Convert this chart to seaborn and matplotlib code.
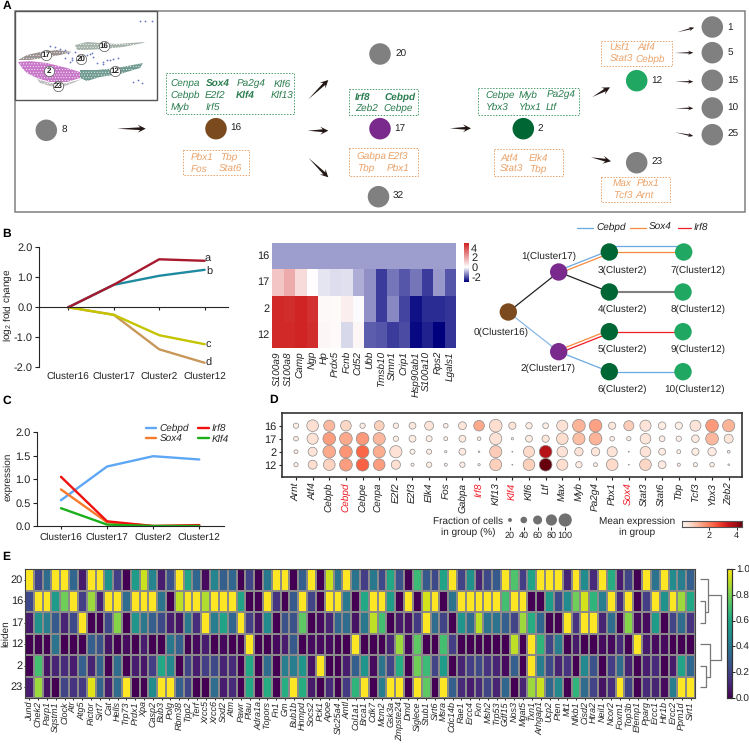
import numpy as np
import pandas as pd
import seaborn as sns
from matplotlib import pyplot as plt
from matplotlib.colors import LinearSegmentedColormap
from matplotlib.patches import Polygon, Rectangle

W, H = 749, 746

sns.set_theme(style='ticks')
plt.rcParams['font.family'] = ['Liberation Sans', 'DejaVu Sans']
plt.rcParams['axes.unicode_minus'] = False
plt.rcParams['mathtext.default'] = 'regular'
plt.rcParams['hatch.linewidth'] = 0.35
plt.rcParams['axes.linewidth'] = 0.8
plt.rcParams['text.hinting'] = 'none'
plt.rcParams['text.hinting_factor'] = 1

INK = '#222222'
GREEN_TXT = '#2a7d4f'
GREEN_BOX = '#4aa06c'
ORANGE_TXT = '#eaa36b'
GREY_NODE = '#808080'
BROWN = '#7b4a1e'
PURPLE = '#7a2a8c'
DARK_GREEN = '#006633'
LIGHT_GREEN = '#20a862'

# panel B, fold change lines
clusters = ['Cluster16', 'Cluster17', 'Cluster2', 'Cluster12']
fold_a = [0, 0.75, 1.6, 1.55]
fold_b = [0, 0.75, 1.05, 1.25]
fold_c = [0, -0.25, -0.93, -1.23]
fold_d = [0, -0.25, -1.4, -1.85]

# panel B, heatmap
hm_genes = ['S100a9', 'S100a8', 'Camp', 'Ngp', 'Hp', 'Prdx5', 'Fcnb', 'Cd52', 'Ubb', 'Tmsb10',
            'Stmn1', 'Crip1', 'Hsp90ab1', 'S100a10', 'Rps2', 'Lgals1']
hm_rows = ['16', '17', '2', '12']
hm_16 = [-1.15, -1.15, -1.15, -1.15, -1.15, -1.15, -1.15, -1.15, -1.15, -1.15, -1.15, -1.15, -1.15, -1.15, -1.15, -1.15]
hm_17 = [1.3, 1.9, 0.8, 0.05, -0.3, -0.4, -0.35, -0.95, -1.3, -2.3, -1.6, -2.0, -1.6, -2.3, -1.2, -2.0]
hm_2 = [4.8, 4.7, 4.9, 4.6, 0.15, 0.1, 0.4, -0.05, -1.3, -2.3, -1.4, -2.2, -2.8, -2.5, -2.5, -2.4]
hm_12 = [4.8, 4.8, 4.9, 4.7, 0.2, 0.1, -0.45, 0.2, -1.9, -2.0, -2.3, -2.1, -2.9, -2.6, -3.0, -2.4]

# panel C
expr_cebpd = [0.55, 1.27, 1.49, 1.42]
expr_sox4 = [0.78, 0.08, 0.0, 0.0]
expr_irf8 = [1.05, 0.1, 0.0, 0.02]
expr_klf4 = [0.38, 0.03, 0.0, 0.0]

# panel D, dot plot
dot_genes = ['Arnt', 'Atf4', 'Cebpb', 'Cebpd', 'Cebpe', 'Cenpa', 'E2f2', 'E2f3', 'Elk4', 'Fos', 'Gabpa', 'Irf8',
             'Klf13', 'Klf4', 'Klf6', 'Ltf', 'Max', 'Myb', 'Pa2g4', 'Pbx1', 'Sox4', 'Stat3', 'Stat6', 'Tbp',
             'Tcf3', 'Ybx3', 'Zeb2']
dot_red = ['Cebpd', 'Irf8', 'Klf4', 'Sox4']
frac_16 = [30, 85, 80, 75, 30, 68, 30, 42, 60, 25, 50, 75, 95, 45, 38, 33, 80, 95, 95, 45, 70, 80, 48, 45, 78, 95, 90]
frac_17 = [25, 80, 95, 95, 95, 90, 30, 42, 35, 20, 42, 18, 90, 10, 42, 45, 85, 90, 95, 25, 22, 75, 33, 30, 48, 95, 60]
frac_2 = [20, 60, 95, 95, 95, 90, 90, 28, 28, 10, 42, 6, 90, 3, 80, 95, 75, 55, 55, 70, 3, 75, 42, 20, 45, 55, 13]
frac_12 = [22, 60, 85, 95, 95, 85, 62, 15, 30, 14, 30, 10, 88, 3, 85, 95, 80, 38, 20, 85, 3, 85, 50, 15, 22, 24, 6]
mean_16 = [.2, .55, 1.15, .7, .25, .8, .2, .35, .45, .2, .4, 1.35, .6, .45, .25, .2, .5, 1.2, 1.45, .4, .85, .45, .25, .2, .45, 1.55, 1.2]
mean_17 = [.2, .5, 1.5, 1.35, 1.55, 1.15, .2, .25, .2, .15, .3, .15, .5, .1, .25, .4, .6, 1.05, 1.2, .15, .15, .4, .2, .15, .3, 1.15, .4]
mean_2 = [.2, .45, 1.35, 1.6, 2.25, 1.3, .5, .15, .2, .1, .3, .05, .85, .02, .65, 3.6, .5, .45, .4, .45, .02, .45, .25, .1, .25, .3, .15]
mean_12 = [.2, .6, .75, 1.5, 2.3, 1.5, .55, .1, .2, .1, .2, .05, .8, .02, .8, 4.4, .6, .25, .15, .65, .02, .7, .3, .1, .15, .15, .1]
fraction_legend = [20, 40, 60, 80, 100]

# panel E
leiden_rows = ['20', '16', '17', '12', '2', '23']
age_genes = ['Jund', 'Chek2', 'Parp1', 'Sqstm1', 'Clock', 'Atr', 'Atg5', 'Rictor', 'Sirt7', 'Cat', 'Hells', 'Trp73',
             'Prdx1', 'Xpa', 'Casp2', 'Bub3', 'Polg', 'Rbm38', 'Tpp2', 'Terf', 'Xrcc5', 'Xrcc6', 'Sod2', 'Atm', 'Pawr',
             'Plau', 'Adra1a', 'Topors', 'Fn1', 'Gm', 'Bub1b', 'Hnmpd', 'Socs2', 'Pck1', 'Apoe', 'Slc25a4', 'Amtl',
             'Col1a1', 'Brca1', 'Cdk7', 'Mcm2', 'Gsk3a', 'Zmpste24', 'Dmd', 'Siglece', 'Stub1', 'Sirt6', 'Msra',
             'Cdc14b', 'Rae1', 'Ercc4', 'Fxn', 'Msh2', 'Trp53', 'Gdf15', 'Nos3', 'Mgat5', 'Txn1', 'Arhgap1', 'Ucp2',
             'Pten', 'Mt1', 'Nfkb1', 'Cisd2', 'Htra2', 'Neil1', 'Ncor2', 'Foxm1', 'Top3b', 'Efemp1', 'Pparg', 'Ercc1',
             'Htr1b', 'Ercc2', 'Ppm1d', 'Sirt1']
leiden_20 = [1, .2, .35, 1, 1, .33, .07, 1, 1, .5, .18, 0, .55, .92, .45, .08, .25, 1, .58, .33, .03, .45, .3, .33, 0, .2,
             0, .4, 1, 1, 0, .3, 1, 0, .92, .38, 1, .38, .18, .4, .22, .6, .25, 0, .68, .28, .22, .58, 1, .2, .5, .1, .22, .28,
             1, .72, .18, .58, 1, 1, 1, .1, 1, .48, .12, 1, .62, .08, .2, 0, 1, .38, 1, .48, .42, .3]
leiden_16 = [.22, 1, 1, .55, .78, 1, .18, .85, .1, 1, 1, .35, 1, 1, 1, .38, 0, .9, 1, 1, .88, 1, 1, 1, .58, 0,
             0, 1, .15, 0, .28, 1, .2, 0, 1, 1, .4, 0, .6, 1, 1, .55, 0, 1, 0, .93, 1, 0, .38, 1, 1, 1, 1, 1,
             .7, 1, 1, 0, 0, .55, .22, .48, .78, .93, .65, .42, 1, .12, 1, 0, .18, 1, .5, 1, .85, .6]
leiden_17 = [.07, .5, .42, .28, .1, .22, 1, 0, 0, .22, .82, 0, .52, .4, .3, .22, .08, .05, .4, .13, 1, .42, .58, .33, 1, .18,
             .05, .48, 0, .25, .25, .75, 0, .03, .1, .33, .35, .05, .4, .9, .7, 0, .07, .04, .17, 1, .35, .2, 0, .52, .35, .9, .38, .38,
             .3, .2, .85, .62, .33, 0, 0, 1, .15, 1, 1, .1, .35, 0, .82, .03, .03, .55, 0, .2, .35, .15]
leiden_12 = [0, 0, 0, .38, 0, 0, 0, .3, .25, .05, 0, .03, 0, .08, 0, 0, .4, .3, 0, .03, .08, 0, .02, 0, 0, 1,
             0, 0, .03, .08, .28, 0, .03, .03, .03, 0, 0, 1, 0, 0, 0, .1, .85, .02, .75, 0, 0, .7, .18, 0, 0, 0, 0, 0,
             0, .9, 0, 1, .65, .2, .42, 0, .07, 0, 0, .03, .03, .12, 0, 1, .07, .03, .03, 0, 0, 0]
leiden_2 = [0, .7, .05, .1, .12, .08, .3, .1, .32, 0, .35, 0, .08, .06, .18, .6, .47, 0, .2, .08, .18, .22, .1, .12, 0, .6,
            0, .35, 0, .42, .42, .52, .05, 1, 0, 0, .08, .3, .52, .03, .38, .2, .62, 0, .78, .68, .2, .55, 0, .1, .18, .22, .15, .1,
            .03, .3, 0, 1, .42, .22, .1, .15, 0, .47, .25, 0, .18, .35, .1, 0, .08, .12, 0, .07, .58, .33]
leiden_23 = [.08, .85, .05, 0, .2, .15, .17, .95, .32, .08, .35, 1, 0, 0, .48, 1, 1, .3, .2, 0, 0, .35, .08, .12, 0, .6,
             0, .62, 0, .62, 1, .62, .07, 0, .12, 0, .17, .65, 1, 0, .42, 1, 1, 0, 1, .75, 0, 1, .3, .12, .08, .12, .2, .1,
             .33, 0, .1, .85, .92, .33, .47, 0, .65, .35, .2, .05, .13, 1, .2, 0, .12, .1, .03, .42, 1, 1]

# panel A, pseudotime nodes: name, x, y, colour (pixel space)
a_names = ['8', '16', '20', '17', '32', '2', '12', '23', '1', '5', '15', '10', '25']
a_x = [46.3, 216, 380, 380, 378.5, 523.3, 636.7, 636.7, 712.3, 712.3, 712.3, 712.3, 712.3]
a_y = [130.3, 128.7, 54, 128.7, 196.7, 128.7, 80.7, 162.7, 27, 52.7, 80.3, 108, 134.7]
a_colors = [GREY_NODE, BROWN, GREY_NODE, PURPLE, GREY_NODE, DARK_GREEN, LIGHT_GREEN, GREY_NODE,
            GREY_NODE, GREY_NODE, GREY_NODE, GREY_NODE, GREY_NODE]
a_label_x = [62, 230, 395, 394, 393, 538, 651.7, 651, 727.7, 727.7, 727.7, 727.7, 727.7]

# panel A arrows: x0, y0, x1, y1
big_arrows = [(117.3, 128.7, 145.7, 128.7), (308.3, 99.3, 328.3, 80), (307.7, 130.7, 328.3, 130.7),
              (308.3, 157.7, 328.3, 177.3), (450, 128.3, 471, 128.3), (592.3, 97, 610, 87.3),
              (591, 157.3, 611, 161.3)]
small_arrows = [(677, 32.3, 694.3, 27.7), (675, 53, 693.3, 52.7), (675, 81.7, 693.3, 81.7),
                (675, 108.3, 693.3, 108.3), (675, 132.3, 693.3, 136)]

# panel A gene boxes: x0, y0, x1, y1, kind
gene_boxes = [(165.7, 73, 294.3, 114.3, 'g'), (183.3, 150.3, 249.3, 175.3, 'o'),
              (349.3, 89, 417.7, 114.7, 'g'), (349.3, 148.3, 417.7, 175.7, 'o'),
              (478.3, 88.3, 579, 114.7, 'g'), (494.3, 149, 563, 176.3, 'o'),
              (600.7, 40.7, 672.3, 66, 'o'), (600.7, 176.7, 669.7, 201.7, 'o')]
# text, x, y, kind, bold
gene_text = [('Cenpa', 170.7, 84, 'g', 0), ('Sox4', 205.7, 84, 'g', 1), ('Pa2g4', 236.7, 84, 'g', 0), ('Klf6', 273.7, 84, 'g', 0),
             ('Cebpb', 170.7, 95.7, 'g', 0), ('E2f2', 205, 95.7, 'g', 0), ('Klf4', 236.3, 95.7, 'g', 1), ('Klf13', 271, 95.7, 'g', 0),
             ('Myb', 170.7, 107.3, 'g', 0), ('Irf5', 205.7, 107.3, 'g', 0),
             ('Pbx1', 191, 157.3, 'o', 0), ('Tbp', 220, 157.3, 'o', 0), ('Fos', 191, 169, 'o', 0), ('Stat6', 219, 169, 'o', 0),
             ('Irf8', 355, 97, 'g', 1), ('Cebpd', 384.7, 97, 'g', 1), ('Zeb2', 355, 108.7, 'g', 0), ('Cebpe', 383.3, 108.7, 'g', 0),
             ('Gabpa', 356.7, 156, 'o', 0), ('E2f3', 387.7, 156, 'o', 0), ('Tbp', 356.7, 168, 'o', 0), ('Pbx1', 387, 168, 'o', 0),
             ('Cebpe', 485, 95.7, 'g', 0), ('Myb', 519, 95.7, 'g', 0), ('Pa2g4', 546.3, 95.7, 'g', 0),
             ('Ybx3', 485.7, 107.7, 'g', 0), ('Ybx1', 519, 107.7, 'g', 0), ('Ltf', 546, 107.7, 'g', 0),
             ('Atf4', 500, 158, 'o', 0), ('Elk4', 528.3, 158, 'o', 0), ('Stat3', 500, 169.7, 'o', 0), ('Tbp', 529, 169.7, 'o', 0),
             ('Usf1', 609.3, 47, 'o', 0), ('Atf4', 637.7, 47, 'o', 0), ('Stat3', 609.7, 59, 'o', 0), ('Cebpb', 635.7, 59, 'o', 0),
             ('Max', 612.3, 183, 'o', 0), ('Pbx1', 636.7, 183, 'o', 0), ('Tcf3', 613, 195, 'o', 0), ('Arnt', 635.7, 195, 'o', 0)]

# UMAP inset outlines (pixel space)
umap_2 = [(18, 62), (30, 61), (47, 63), (67, 68), (80, 72), (80, 78), (67, 82), (50, 82), (37, 78), (27, 73), (22, 68)]
umap_17 = [(18, 60), (27, 55), (40, 52), (57, 50), (72, 52), (60, 55), (43, 58), (30, 60)]
umap_23 = [(37, 79), (50, 83), (67, 83), (82, 79), (73, 83), (60, 88), (50, 86), (40, 83)]
umap_12 = [(80, 70), (97, 70), (117, 68), (143, 63), (140, 68), (120, 74), (100, 77), (87, 81), (80, 78)]
umap_16 = [(75, 45), (87, 42), (100, 43), (117, 44), (145, 42), (143, 43), (123, 47), (103, 49), (87, 50), (77, 50)]
umap_20_x = [50, 55, 60, 65, 68, 72, 65, 72, 78, 82, 87, 90, 92, 93, 97, 103, 107, 113, 118, 103, 110, 70, 75, 84, 140, 145, 152, 133, 138, 142]
umap_20_y = [46, 47, 49, 50, 53, 58, 58, 60, 58, 58, 55, 54, 53, 57, 63, 62, 60, 59, 58, 64, 60, 62, 52, 56, 21, 21, 21, 82, 80, 83]
umap_tags = ['16', '17', '20', '2', '12', '23']
umap_tag_x = [103.7, 45.7, 81.3, 49.3, 114.7, 58.3]
umap_tag_y = [45.7, 55.3, 58.7, 71, 71.3, 85.7]

# panel B tree: x, y, colour, label, label x, label y
tree_x = [508.3, 558.7, 558.7, 609.3, 609.3, 609.3, 609.3, 683.7, 683, 683, 683]
tree_y = [312, 272, 351.7, 252, 292, 331.7, 371.7, 252, 292, 331.7, 371.7]
tree_colors = [BROWN, PURPLE, PURPLE, DARK_GREEN, DARK_GREEN, DARK_GREEN, DARK_GREEN,
               LIGHT_GREEN, LIGHT_GREEN, LIGHT_GREEN, LIGHT_GREEN]
tree_labels = ['0(Cluster16)', '1(Cluster17)', '2(Cluster17)', '3(Cluster2)', '4(Cluster2)', '5(Cluster2)',
               '6(Cluster2)', '7(Cluster12)', '8(Cluster12)', '9(Cluster12)', '10(Cluster12)']
tree_label_x = [500.7, 548.7, 548.3, 622, 622, 622, 622, 698, 698, 698, 695]
tree_label_y = [332.3, 256.7, 368.3, 270, 309.7, 349.3, 389, 270, 309.7, 349.3, 389]
C_CEBPD = '#6aa9e0'
C_SOX4 = '#f58a3c'
C_IRF8 = '#ee1c25'
# from, to, (colour, perpendicular offset, width)
tree_edges = [(0, 1, [('#222222', 0, 0.9)]), (0, 2, [('#8ab8e6', 0, 0.9)]),
              (1, 3, [(C_CEBPD, -1.4, 0.9), (C_SOX4, 1.4, 0.9)]), (1, 4, [('#222222', 0, 0.9)]),
              (3, 7, [(C_CEBPD, -5.6, 0.9), (C_SOX4, 0, 0.9)]), (4, 8, [('#808080', 0, 1.5)]),
              (2, 5, [(C_SOX4, -1.4, 0.9), (C_IRF8, 1.4, 0.9)]), (2, 6, [(C_CEBPD, 0, 0.9)]),
              (5, 9, [(C_IRF8, 0, 0.9)]), (6, 10, [(C_CEBPD, 0, 0.9)])]

fig = plt.figure(figsize=(W / 100, H / 100), dpi=100, facecolor='white')


def px_axes(x0, y0, x1, y1):
    return fig.add_axes([x0 / W, 1 - y1 / H, (x1 - x0) / W, (y1 - y0) / H])


def arrow(ax, x0, y0, x1, y1, hl=8, hw=4, neck=1.4):
    d = np.array([x1 - x0, y1 - y0], dtype=float)
    d = d / np.hypot(*d)
    n = np.array([-d[1], d[0]])
    tip = np.array([x1, y1])
    ne = tip - d * hl * 0.7
    ba = tip - d * hl
    ax.fill(*zip((x0, y0), ne + n * neck, ba + n * hw, tip, ba - n * hw, ne - n * neck), color='#231815', lw=0, zorder=4)


# overlay in pixel coordinates for the diagram parts
ov = fig.add_axes([0, 0, 1, 1], zorder=5)
ov.patch.set_alpha(0)

for letter, lx, ly in [('A', 2.5, 6), ('B', 2.5, 234), ('C', 2.5, 401), ('D', 269, 400), ('E', 2.5, 557)]:
    ov.text(lx, ly, letter, fontsize=8.5, fontweight='bold', color='black', ha='left', va='center')

# ---- panel A ----
ov.add_patch(Rectangle((14.5, 11), 730.5, 201, fill=False, ec='#808080', lw=1.1))
ov.add_patch(Rectangle((14.5, 11), 142, 89.3, fill=False, ec='#555555', lw=1.0, zorder=3))

for poly, col in [(umap_17, '#9a9090'), (umap_2, '#c877c8'), (umap_23, '#bdbdbd'), (umap_12, '#6f9a90'), (umap_16, '#a5b3aa')]:
    ov.add_patch(Polygon(poly, closed=True, facecolor=col, edgecolor='white', hatch='......', lw=0, zorder=1))
sns.scatterplot(x=umap_20_x, y=umap_20_y, color='#6675c4', s=1.6, linewidth=0, ax=ov, legend=False, zorder=2)
sns.scatterplot(x=umap_tag_x, y=umap_tag_y, color='white', edgecolor='#555555', linewidth=0.5, s=55, ax=ov, legend=False, zorder=3)
for t, tx, ty in zip(umap_tags, umap_tag_x, umap_tag_y):
    ov.text(tx, ty, t, fontsize=6, fontweight='bold', color=INK, ha='center', va='center', zorder=4)

sns.scatterplot(x=a_x, y=a_y, hue=a_names, palette=dict(zip(a_names, a_colors)), s=240, linewidth=0,
                ax=ov, legend=False, zorder=3)
for name, lx, ly in zip(a_names, a_label_x, a_y):
    ov.text(lx, ly, name, fontsize=7.2, color=INK, ha='left', va='center')

for a in big_arrows:
    arrow(ov, *a)
for a in small_arrows:
    arrow(ov, *a, hl=5.5, hw=2.2, neck=0.7)

for x0, y0, x1, y1, kind in gene_boxes:
    ov.add_patch(Rectangle((x0, y0), x1 - x0, y1 - y0, fill=False, lw=0.7, ls=(0, (1.5, 1.5)),
                           ec=GREEN_BOX if kind == 'g' else ORANGE_TXT))
for txt, tx, ty, kind, bold in gene_text:
    ov.text(tx, ty, txt, fontsize=7, style='italic', fontweight='bold' if bold else 'normal',
            color=GREEN_TXT if kind == 'g' else ORANGE_TXT, ha='left', va='center')

# ---- panel B lines ----
ax_b = px_axes(38.7, 247.3, 228, 367.3)
fold_df = pd.DataFrame({'cluster': clusters * 4, 'fold': fold_b + fold_a + fold_c + fold_d,
                        'group': sum([[g] * 4 for g in ['b', 'a', 'c', 'd']], [])})
sns.lineplot(data=fold_df, x='cluster', y='fold', hue='group', sort=False, errorbar=None, legend=False, lw=1.7, ax=ax_b,
             palette={'a': '#a8192e', 'b': '#1f8aa0', 'c': '#c4c400', 'd': '#c8985a'}, hue_order=['d', 'c', 'b', 'a'])
ax_b.set_xlim(-0.651, 3.514)
ax_b.set_ylim(-2, 2)
ax_b.set_yticks([-2, -1, 0, 1, 2], ['-2.0', '-1.0', '0.0', '1.0', '2.0'], fontsize=8, color=INK)
ax_b.spines['top'].set_visible(False)
ax_b.spines['right'].set_visible(False)
ax_b.spines['bottom'].set_position(('data', 0))
ax_b.tick_params(axis='x', labelsize=7.2, labelcolor=INK, length=2.5, width=0.8, pad=44, color=INK)
ax_b.tick_params(axis='y', length=3, width=0.8, pad=1.5, color=INK)
ax_b.set_xlabel('')
ax_b.set_ylabel('log$_2$ fold change', fontsize=7.5, color=INK, labelpad=1)
ax_b.yaxis.set_label_coords(-0.125, 0.52)
for lab, lx, ly in zip('abcd', [207.3, 209, 208.7, 208.7], [259.3, 272, 344.7, 362.7]):
    ov.text(lx, ly, lab, fontsize=8, color=INK, ha='center', va='center')

# ---- panel B heatmap ----
hm_cmap = LinearSegmentedColormap.from_list('hm', [(0, '#00007f'), (3 / 8, '#ffffff'), (1, '#cf2020')])
hm_df = pd.DataFrame([hm_16, hm_17, hm_2, hm_12], index=hm_rows, columns=hm_genes)
ax_h = px_axes(272, 243, 456, 348.3)
ax_hc = px_axes(464, 243, 469, 281.7)
sns.heatmap(hm_df, cmap=hm_cmap, vmin=-3, vmax=5, ax=ax_h, cbar_ax=ax_hc, xticklabels=True, yticklabels=True)
ax_h.tick_params(axis='both', length=0, pad=2)
ax_h.set_xticklabels(hm_genes, rotation=90, fontsize=7, style='italic', color=INK)
ax_h.set_yticklabels(hm_rows, rotation=0, fontsize=8, color=INK)
ax_hc.set_yticks([4, 2, 0, -2], ['4', '2', '0', '-2'], fontsize=8, color=INK)
ax_hc.tick_params(length=0, pad=1.5)

# ---- panel B tree ----
for i, j, strokes in tree_edges:
    p0 = np.array([tree_x[i], tree_y[i]])
    p1 = np.array([tree_x[j], tree_y[j]])
    d = (p1 - p0) / np.hypot(*(p1 - p0))
    n = np.array([-d[1], d[0]])
    for col, off, width in strokes:
        ov.plot([p0[0] + n[0] * off, p1[0] + n[0] * off], [p0[1] + n[1] * off, p1[1] + n[1] * off], color=col,
                lw=width, solid_capstyle='butt', zorder=1)
tree_names = [str(i) for i in range(len(tree_x))]
sns.scatterplot(x=tree_x, y=tree_y, hue=tree_names, palette=dict(zip(tree_names, tree_colors)), s=157, linewidth=0,
                ax=ov, legend=False, zorder=3)
for lab, lx, ly in zip(tree_labels, tree_label_x, tree_label_y):
    ov.text(lx, ly, lab, fontsize=7.2, color=INK, ha='center', va='center')
for name, col, x0, x1, tx in [('Cebpd', C_CEBPD, 577.3, 593, 596), ('Sox4', C_SOX4, 630, 645.7, 648.3),
                              ('Irf8', C_IRF8, 678.3, 691, 693.7)]:
    ov.plot([x0, x1], [227.7, 227.7], color=col, lw=0.9)
    ov.text(tx, 227.7, name, fontsize=7, style='italic', color=INK, ha='left', va='center')

# ---- panel C ----
ax_c = px_axes(37, 432.3, 224, 526)
expr_df = pd.DataFrame({'cluster': clusters * 4, 'expression': expr_cebpd + expr_sox4 + expr_irf8 + expr_klf4,
                        'gene': sum([[g] * 4 for g in ['Cebpd', 'Sox4', 'Irf8', 'Klf4']], [])})
sns.lineplot(data=expr_df, x='cluster', y='expression', hue='gene', sort=False, errorbar=None, lw=1.7, ax=ax_c,
             palette={'Cebpd': '#5ea7f5', 'Sox4': '#f97a2a', 'Irf8': '#f01010', 'Klf4': '#1bb01b'})
ax_c.set_xlim(-0.52, 3.536)
ax_c.set_ylim(0, 2)
ax_c.set_yticks([0, 0.5, 1, 1.5, 2], ['0.0', '0.5', '1.0', '1.5', '2.0'], fontsize=8, color=INK)
ax_c.spines['top'].set_visible(False)
ax_c.spines['right'].set_visible(False)
ax_c.tick_params(axis='x', labelsize=7.2, labelcolor=INK, length=2.5, width=0.8, pad=2, color=INK)
ax_c.tick_params(axis='y', length=3, width=0.8, pad=1.5, color=INK)
ax_c.set_xlabel('')
ax_c.set_ylabel('expression', fontsize=7.5, color=INK)
ax_c.yaxis.set_label_coords(-0.128, 0.53)
leg = ax_c.legend(ncol=2, frameon=False, loc='upper left', bbox_to_anchor=(0.583, 1.09), handlelength=1.0, handletextpad=0.3,
                  columnspacing=0.9, labelspacing=0.1, borderpad=0, borderaxespad=0,
                  prop={'size': 7.5, 'style': 'italic', 'family': ['Liberation Sans']})

# ---- panel D ----
dot_rows = []
for r, (fr, mn) in enumerate([(frac_16, mean_16), (frac_17, mean_17), (frac_2, mean_2), (frac_12, mean_12)]):
    for g, (f, m) in enumerate(zip(fr, mn)):
        dot_rows.append({'gene': g, 'row': r, 'frac': f, 'mean': m})
dot_df = pd.DataFrame(dot_rows)
dot_df['area'] = (dot_df['frac'] / 100) ** 1.5 * 90

ax_d = px_axes(282, 413, 742, 477)
sns.scatterplot(data=dot_df, x='gene', y='row', hue='mean', palette='Reds', hue_norm=(0, 4.4), size='area',
                sizes=(dot_df['area'].min(), dot_df['area'].max()), size_norm=(dot_df['area'].min(), dot_df['area'].max()),
                edgecolor='#8c8c8c', linewidth=0.5, legend=False, ax=ax_d)
ax_d.set_xlim(-0.841, 26.8)
ax_d.set_ylim(3.946, -0.977)
ax_d.set_xticks(range(len(dot_genes)))
ax_d.set_xticklabels(dot_genes, rotation=90, fontsize=7, style='italic')
for lab, g in zip(ax_d.get_xticklabels(), dot_genes):
    lab.set_color('#ee1c25' if g in dot_red else INK)
ax_d.set_yticks(range(4), hm_rows, fontsize=8, color=INK)
ax_d.tick_params(length=2.5, width=0.8, pad=1.5, color=INK)
ax_d.set_xlabel('')
ax_d.set_ylabel('')
for s in ax_d.spines.values():
    s.set_linewidth(1.2)
    s.set_color('#333333')

ov.text(468.5, 526.7, 'Fraction of cells\nin group (%)', fontsize=7.5, color=INK, ha='center', va='center', linespacing=1.25)
ov.text(636.7, 526.7, 'Mean expression\nin group', fontsize=7.5, color=INK, ha='center', va='center', linespacing=1.25)

ax_s = px_axes(503.1, 513, 572.1, 527)
sns.scatterplot(x=range(5), y=[0] * 5, s=[(f / 100) ** 1.5 * 90 for f in fraction_legend], color='#707070', linewidth=0,
                legend=False, ax=ax_s)
ax_s.set_xlim(-0.5, 4.5)
ax_s.set_ylim(-1, 1)
ax_s.set_xticks(range(5), fraction_legend, fontsize=6.5, color=INK)
ax_s.set_yticks([])
ax_s.tick_params(axis='x', length=2, width=0.7, pad=1, color=INK)
sns.despine(ax=ax_s, left=True, bottom=True)

ax_m = px_axes(681.7, 520.7, 742.3, 527.3)
grad = np.linspace(0, 4.4, 256).reshape(1, -1)
ax_m.imshow(grad, aspect='auto', cmap='Reds', vmin=0, vmax=4.4, extent=[0, 4.4, 0, 1])
ax_m.set_yticks([])
ax_m.set_xticks([2, 4], ['2', '4'], fontsize=6.5, color=INK)
ax_m.tick_params(axis='x', length=2, width=0.7, pad=1, color=INK)
for s in ax_m.spines.values():
    s.set_color('#555555')

# ---- panel E ----
age_df = pd.DataFrame([leiden_20, leiden_16, leiden_17, leiden_12, leiden_2, leiden_23], index=leiden_rows, columns=age_genes)
ax_e = px_axes(25, 569, 695, 698)
ax_ec = px_axes(726.7, 569, 731.7, 698)
sns.heatmap(age_df, cmap='viridis', vmin=0, vmax=1, linewidths=0.3, linecolor='#8a8a8a', ax=ax_e, cbar_ax=ax_ec,
            xticklabels=True, yticklabels=True)
ax_e.set_xticklabels(age_genes, rotation=90, fontsize=6.6, style='italic', color=INK)
ax_e.set_yticklabels(leiden_rows, rotation=0, fontsize=8, color=INK)
ax_e.tick_params(axis='x', length=1.5, width=0.7, pad=0.8, color=INK)
ax_e.tick_params(axis='y', length=1, width=0.7, pad=0.5, color=INK)
ax_e.set_ylabel('leiden', fontsize=7, color=INK)
ax_e.yaxis.set_label_coords(-0.0224, 0.5)
for s in ax_e.spines.values():
    s.set_visible(True)
    s.set_linewidth(0.8)
    s.set_color('#444444')
ax_ec.set_yticks([0, 0.2, 0.4, 0.6, 0.8, 1.0], ['0.0', '0.2', '0.4', '0.6', '0.8', '1.0'], fontsize=7.5, color=INK)
ax_ec.tick_params(length=2, width=0.7, pad=1, color=INK)
for s in ax_ec.spines.values():
    s.set_visible(True)
    s.set_linewidth(0.8)
    s.set_color('#333333')

# dendrogram, px coordinates
den_y = [579.3, 600.7, 622.7, 644.3, 666, 687.3]
den_lines = [
    ([700, 708.3, 708.3, 705], [den_y[0], den_y[0], 611.7, 611.7]),
    ([700, 705, 705, 700], [den_y[1], den_y[1], den_y[2], den_y[2]]),
    ([700, 710, 710, 705.7], [den_y[3], den_y[3], 676.7, 676.7]),
    ([700, 705.7, 705.7, 700], [den_y[4], den_y[4], den_y[5], den_y[5]]),
    ([708.3, 720.7, 720.7, 710], [595, 595, 660, 660]),
]
for lx, ly in den_lines:
    ov.plot(lx, ly, color='#777777', lw=0.9, solid_capstyle='butt')

ov.set_xlim(0, W)
ov.set_ylim(H, 0)
ov.axis('off')

fig.savefig('out.png', dpi=100)
